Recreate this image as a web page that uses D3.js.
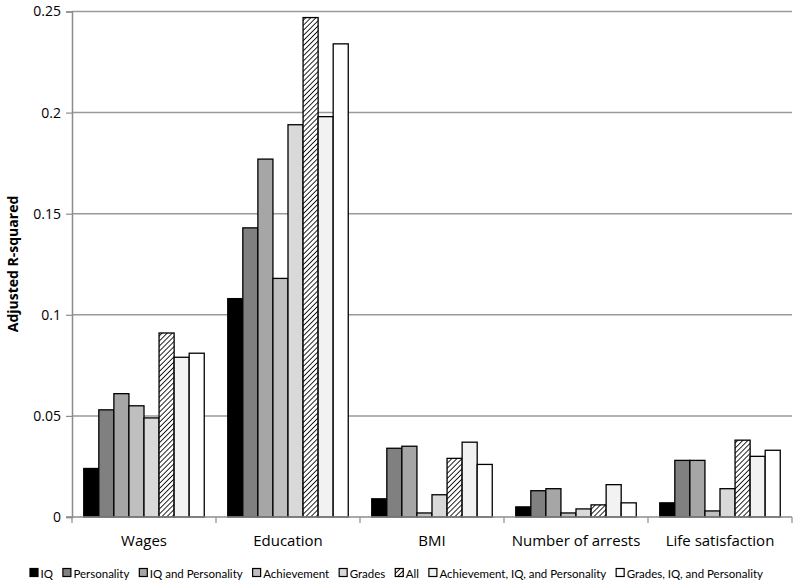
<!DOCTYPE html>
<html><head><meta charset="utf-8">
<script src="https://cdn.jsdelivr.net/npm/d3@7"></script>
<style>body{margin:0;background:#fff}svg{display:block}</style>
</head><body><svg id="c" width="796" height="582"></svg>
<script>
const categories = ["Wages","Education","BMI","Number of arrests","Life satisfaction"];
const seriesNames = ["IQ","Personality","IQ and Personality","Achievement","Grades","All","Achievement, IQ, and Personality","Grades, IQ, and Personality"];
const seriesColors = ["#000000","#808080","#a6a6a6","#bfbfbf","#d9d9d9","hatch","#f2f2f2","#ffffff"];
const values = [
  [0.024, 0.053, 0.061, 0.055, 0.049, 0.091, 0.079, 0.081],
  [0.108, 0.143, 0.177, 0.118, 0.194, 0.247, 0.198, 0.234],
  [0.009, 0.034, 0.035, 0.002, 0.011, 0.029, 0.037, 0.026],
  [0.005, 0.013, 0.014, 0.002, 0.004, 0.006, 0.016, 0.007],
  [0.007, 0.028, 0.028, 0.003, 0.014, 0.038, 0.030, 0.033]
];
const yTicks = [0, 0.05, 0.1, 0.15, 0.2, 0.25];
const yTickLabels = ["0","0.05","0.1","0.15","0.2","0.25"];

const svg = d3.select("#c");
const font = "'Open Sans', sans-serif";
const legFont = "Lato, 'Open Sans', sans-serif";
const L = 72, R = 792, T = 11.5, B = 517;

const defs = svg.append("defs");
const pat = defs.append("pattern").attr("id","hatch").attr("patternUnits","userSpaceOnUse")
  .attr("width",3.6).attr("height",3.6).attr("patternTransform","rotate(45)");
pat.append("rect").attr("width",3.6).attr("height",3.6).attr("fill","#fff");
pat.append("line").attr("x1",0).attr("y1",0).attr("x2",0).attr("y2",3.6).attr("stroke","#000").attr("stroke-width",1.7);
const fillOf = c => c === "hatch" ? "url(#hatch)" : c;

const y = d3.scaleLinear().domain([0,0.25]).range([B,T]);
const x0 = d3.scaleBand().domain(categories).range([L,R]).paddingInner(0).paddingOuter(0);
const x1 = d3.scaleBand().domain(seriesNames).range([0,x0.bandwidth()]).paddingOuter(0.78).paddingInner(0);

// gridlines
svg.append("g").selectAll("line").data(yTicks.filter(d=>d>0)).join("line")
  .attr("x1",L).attr("x2",R).attr("y1",d=>y(d)).attr("y2",d=>y(d))
  .attr("stroke","#9a9a9a").attr("stroke-width",1.5);

// bars
const g = svg.append("g");
categories.forEach((c,ci)=>{
  g.append("g").attr("transform",`translate(${x0(c)},0)`)
   .selectAll("rect").data(values[ci].map((v,i)=>({v,i}))).join("rect")
   .attr("x",d=>x1(seriesNames[d.i])).attr("width",x1.bandwidth())
   .attr("y",d=>y(d.v)).attr("height",d=>B-y(d.v))
   .attr("fill",d=>fillOf(seriesColors[d.i])).attr("stroke","#000").attr("stroke-width",1.3);
});

// y axis
const ya = svg.append("g").attr("transform",`translate(${L},0)`)
  .call(d3.axisLeft(y).tickValues(yTicks).tickFormat((d,i)=>yTickLabels[i]).tickSize(6).tickPadding(5));
ya.select(".domain").attr("stroke","#8c8c8c").attr("stroke-width",1.5);
ya.selectAll(".tick line").attr("stroke","#8c8c8c").attr("stroke-width",1.2);
ya.selectAll("text").attr("font-family",font).attr("font-size",14).attr("fill","#000");

// x axis
const xa = svg.append("g").attr("transform",`translate(0,${B})`);
xa.append("line").attr("x1",L-6).attr("x2",R).attr("y1",0).attr("y2",0).attr("stroke","#8c8c8c").attr("stroke-width",1.5);
const bounds = categories.map(c=>x0(c)).concat([R]);
xa.selectAll(".bt").data(bounds).join("line").attr("class","bt")
  .attr("x1",d=>d).attr("x2",d=>d).attr("y1",0).attr("y2",6).attr("stroke","#8c8c8c").attr("stroke-width",1.2);
xa.selectAll(".cl").data(categories).join("text").attr("class","cl")
  .attr("x",d=>x0(d)+x0.bandwidth()/2).attr("y",29).attr("text-anchor","middle")
  .attr("font-family",font).attr("font-size",15).attr("fill","#000").text(d=>d);

// y title
svg.append("text").attr("transform","translate(18,264) rotate(-90)").attr("text-anchor","middle")
  .attr("font-family",font).attr("font-size",14).attr("font-weight","bold").text("Adjusted R-squared");

// legend
const leg = svg.append("g");
const items = seriesNames.map((n,i)=>{
  const it = leg.append("g");
  it.append("rect").attr("x",0).attr("y",-4.5).attr("width",8).attr("height",8)
    .attr("fill",fillOf(seriesColors[i])).attr("stroke","#000").attr("stroke-width",1.2);
  const t = it.append("text").attr("x",10.5).attr("y",4.5).attr("font-family",legFont).attr("font-size",11.5).text(n);
  return {it, w: 10.5 + t.node().getComputedTextLength()};
});
const legL = 30, legR = 763;
const gap = Math.max(6, (legR - legL - d3.sum(items,d=>d.w)) / (items.length-1));
const total = d3.sum(items,d=>d.w) + gap*(items.length-1);
let cx = (legL+legR)/2 - total/2;
items.forEach(d=>{ d.it.attr("transform",`translate(${cx},573)`); cx += d.w + gap; });
</script></body></html>
